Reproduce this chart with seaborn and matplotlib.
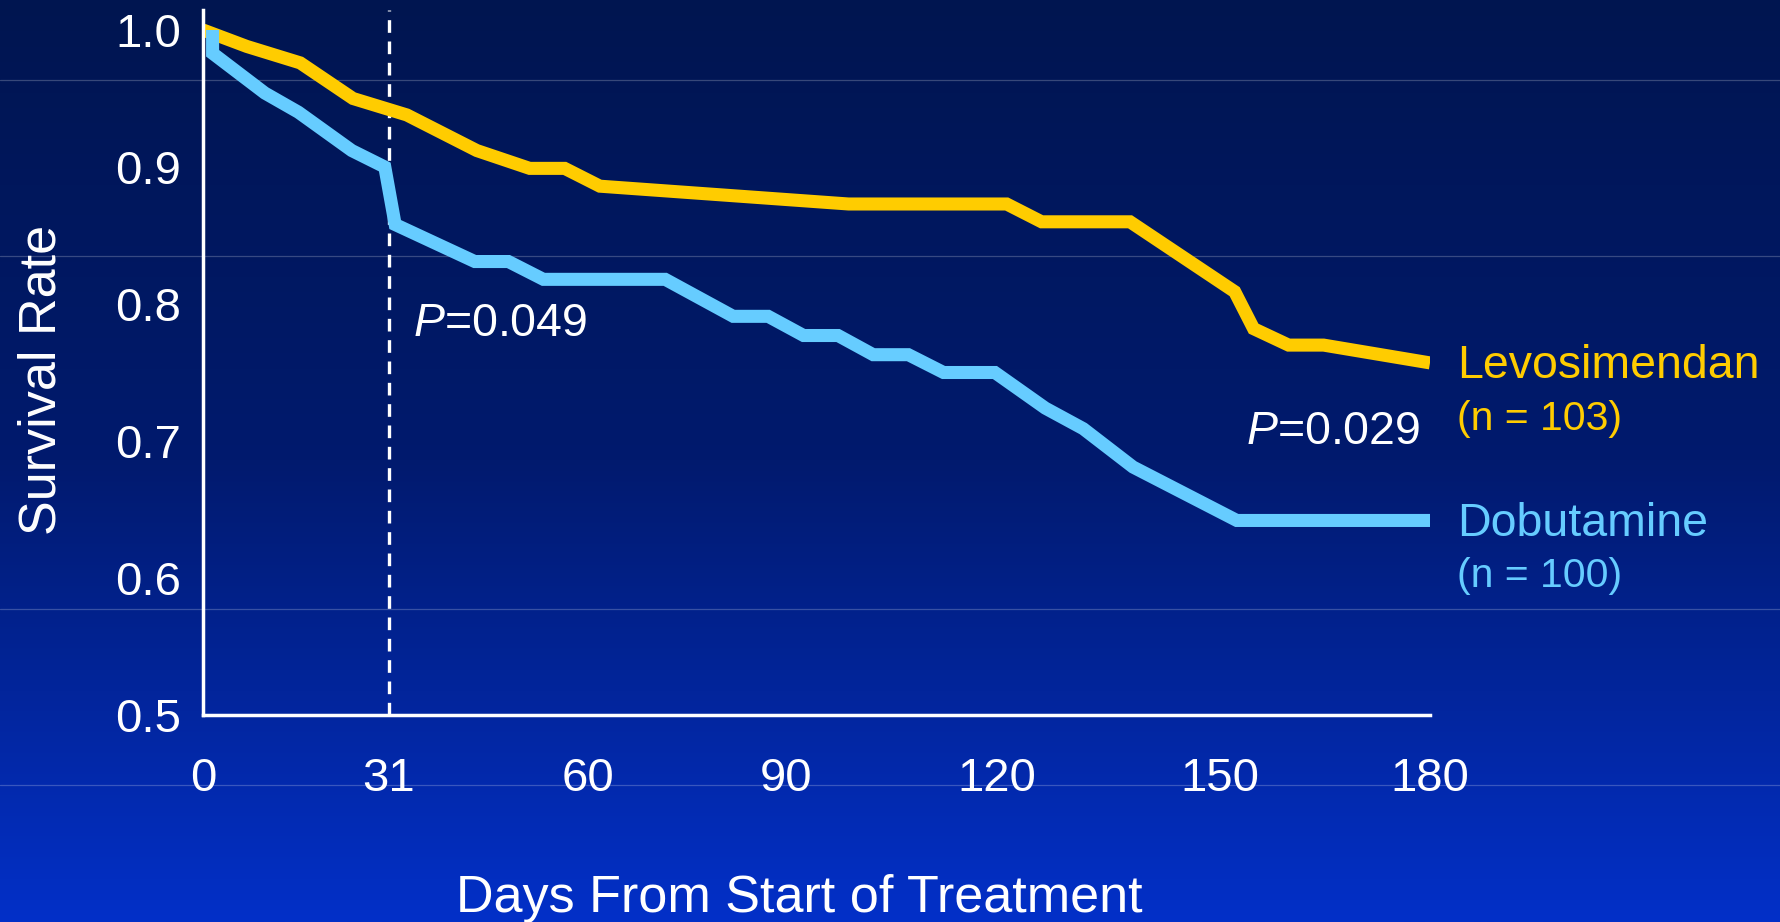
import numpy as np
import pandas as pd
import matplotlib
matplotlib.use("Agg")
import matplotlib.pyplot as plt
from matplotlib.colors import LinearSegmentedColormap
import seaborn as sns

# ---- data -------------------------------------------------------------
arms = ["Levosimendan", "Dobutamine"]
arm_n = [103, 100]
arm_colors = ["#FFCC00", "#66CCFF"]

# Kaplan-Meier vertices (day, survival rate) for each arm
levo_days = [0, 7.3, 16.2, 25.0, 33.6, 43.8, 51.5, 56.6, 61.8, 98.9, 121.3,
             126.0, 137.9, 152.1, 154.8, 159.8, 164.8, 180]
levo_surv = [1.000, 0.988, 0.976, 0.950, 0.938, 0.912, 0.899, 0.899, 0.886,
             0.873, 0.873, 0.860, 0.860, 0.809, 0.782, 0.770, 0.770, 0.757]
dobu_days = [1.6, 1.6, 10.3, 15.9, 24.8, 30.3, 31.9, 43.5, 48.4, 53.5, 71.7,
             82.0, 87.3, 92.5, 97.4, 102.4, 107.4, 112.4, 119.7, 126.5, 131.6,
             138.3, 152.4, 180]
dobu_surv = [1.000, 0.983, 0.954, 0.940, 0.912, 0.900, 0.858, 0.831, 0.831,
             0.818, 0.818, 0.791, 0.791, 0.777, 0.777, 0.763, 0.763, 0.750,
             0.750, 0.724, 0.709, 0.681, 0.642, 0.642]

# log-rank results: (day of comparison, p value, survival level of the label)
p_day_31, p_text_31, p_level_31 = 31, "0.049", 0.777
p_day_180, p_text_180, p_level_180 = 180, "0.029", 0.698

x_ticks = [0, 31, 60, 90, 120, 150, 180]
x_tick_labels = ["0", "31", "60", "90", "120", "150", "180"]
y_ticks = [0.5, 0.6, 0.7, 0.8, 0.9, 1.0]
y_tick_labels = ["0.5", "0.6", "0.7", "0.8", "0.9", "1.0"]

# ---- uneven time axis: the later months are drawn wider ---------------
tick_span = np.array([0, 186, 385, 583, 794, 1017, 1227], dtype=float)
tick_days = np.array(x_ticks, dtype=float)


def _pw(v, xs, ys):
    v = np.asarray(v, dtype=float)
    out = np.interp(v, xs, ys)
    s_lo = (ys[1] - ys[0]) / (xs[1] - xs[0])
    s_hi = (ys[-1] - ys[-2]) / (xs[-1] - xs[-2])
    out = np.where(v < xs[0], ys[0] + (v - xs[0]) * s_lo, out)
    out = np.where(v > xs[-1], ys[-1] + (v - xs[-1]) * s_hi, out)
    return out


def day_fwd(d):
    return _pw(d, tick_days, tick_span)


def day_inv(s):
    return _pw(s, tick_span, tick_days)


df = pd.concat([
    pd.DataFrame({"day": levo_days, "survival": levo_surv, "arm": arms[0]}),
    pd.DataFrame({"day": dobu_days, "survival": dobu_surv, "arm": arms[1]}),
], ignore_index=True)

# ---- style ------------------------------------------------------------
sns.set_style("white")
plt.rcParams["font.family"] = ["Liberation Sans", "DejaVu Sans"]
plt.rcParams["mathtext.fontset"] = "custom"
plt.rcParams["mathtext.rm"] = "Liberation Sans"
plt.rcParams["mathtext.it"] = "Liberation Sans:italic"

W, H = 1780, 922
fig = plt.figure(figsize=(W / 100, H / 100), dpi=100)

# slide background: vertical navy-to-royal-blue gradient with faint rules
bg = fig.add_axes([0, 0, 1, 1])
bg.set_zorder(0)
grad_cmap = LinearSegmentedColormap.from_list("slide", ["#0330C8", "#011a6e", "#001550"])
grad = np.linspace(0, 1, 512).reshape(-1, 1)
bg.imshow(grad, aspect="auto", cmap=grad_cmap, origin="lower",
          extent=[0, 1, 0, 1], interpolation="bicubic")
for ypx in [80, 256, 609, 785]:
    bg.axhline(1 - ypx / H, color="white", alpha=0.22, lw=0.9)
bg.set_xlim(0, 1)
bg.set_ylim(0, 1)
bg.axis("off")

# ---- chart ------------------------------------------------------------
ax = fig.add_axes([203 / W, 1 - 715 / H, 1227 / W, 705 / H])
ax.set_zorder(1)
ax.patch.set_alpha(0)
ax.set_xscale("function", functions=(day_fwd, day_inv))

sns.lineplot(data=df, x="day", y="survival", hue="arm", hue_order=arms,
             palette=arm_colors, estimator=None, sort=False, legend=False,
             lw=9.4, solid_joinstyle="miter", solid_capstyle="butt", ax=ax)

ax.axvline(p_day_31, color="white", lw=2.4, ls=(0, (3.8, 2.6)), zorder=1)

ax.set_xlim(0, 180)
ax.set_ylim(0.5, 1.0146)
ax.set_xticks(x_ticks)
ax.set_xticklabels(x_tick_labels)
ax.set_yticks(y_ticks)
ax.set_yticklabels(y_tick_labels)
ax.xaxis.set_minor_locator(matplotlib.ticker.NullLocator())
ax.tick_params(axis="x", length=0, pad=30, labelsize=34, labelcolor="white")
ax.tick_params(axis="y", length=0, pad=16, labelsize=34, labelcolor="white")

for side in ["top", "right"]:
    ax.spines[side].set_visible(False)
for side in ["left", "bottom"]:
    ax.spines[side].set_color("white")
    ax.spines[side].set_linewidth(2.5)

ax.set_xlabel("Days From Start of Treatment", fontsize=37.5, color="white")
ax.set_ylabel("Survival Rate", fontsize=37.5, color="white")
ax.xaxis.set_label_coords(0.4857, -0.2255)
ax.yaxis.set_label_coords(-0.111, 0.475)

# arm names next to each curve end
for name, n, col, surv in zip(arms, arm_n, arm_colors, [levo_surv, dobu_surv]):
    ax.annotate(name, xy=(180, surv[-1]), xytext=(19.5, -11),
                textcoords="offset points", ha="left", va="baseline",
                fontsize=33.5, color=col, annotation_clip=False)
    ax.annotate(f"(n = {n})", xy=(180, surv[-1]), xytext=(19.5, -48),
                textcoords="offset points", ha="left", va="baseline",
                fontsize=29.5, color=col, annotation_clip=False)

ax.annotate(f"$P$={p_text_31}", xy=(p_day_31, p_level_31), xytext=(17, 0),
            textcoords="offset points", ha="left", va="baseline",
            fontsize=33.5, color="white")
ax.annotate(f"$P$={p_text_180}", xy=(p_day_180, p_level_180), xytext=(-7, 0),
            textcoords="offset points", ha="right", va="baseline",
            fontsize=33.5, color="white")

fig.savefig("out.png", dpi=100)
